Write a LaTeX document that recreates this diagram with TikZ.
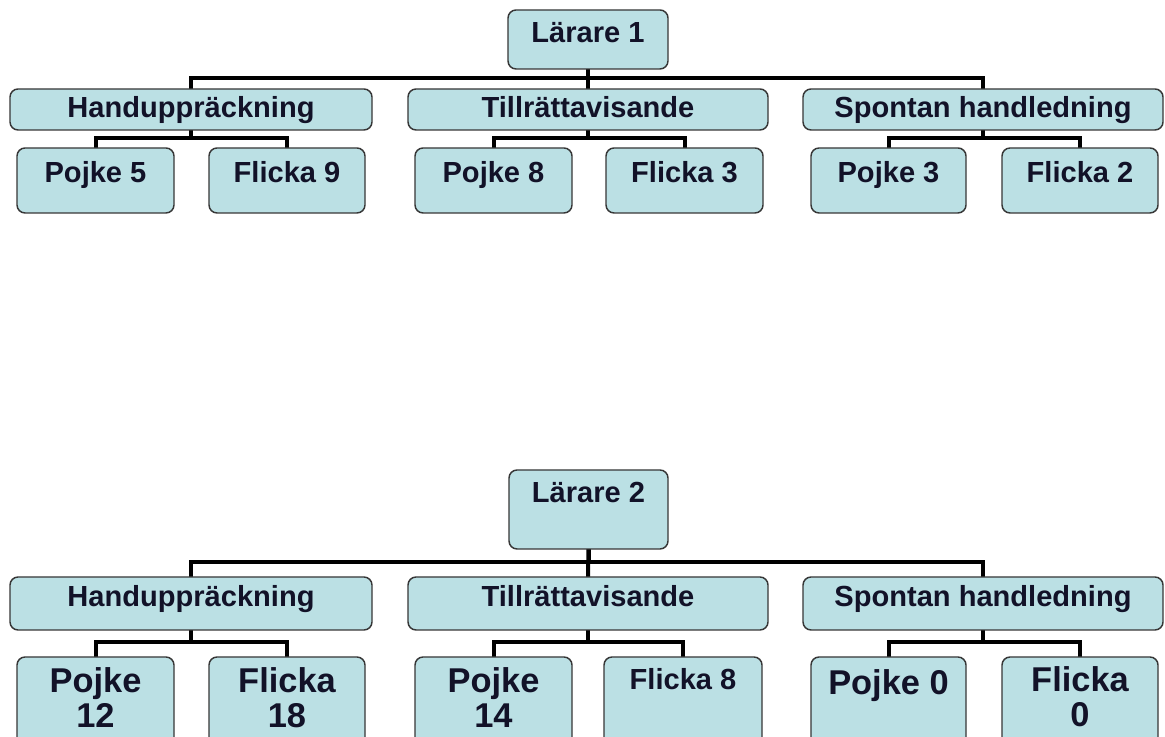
\documentclass[tikz,border=0pt]{standalone}
\usepackage{fontspec}
\setmainfont{Liberation Sans}
\usetikzlibrary{calc,backgrounds}
\definecolor{boxfill}{RGB}{187,224,228}
\definecolor{boxline}{RGB}{55,55,55}
\definecolor{txt}{RGB}{18,18,40}
\newcommand\boxat[5]{\node[box, minimum width={(#4-#2)*0.75pt}, minimum height={(#5-#3)*0.75pt}] (#1) at ({(#2+#4)/2},{(#3+#5)/2}) {};}
\begin{document}
\begin{tikzpicture}[x=0.75pt,y=-0.75pt,
  box/.style={draw=boxline, line width=1.1pt, fill=boxfill, rounded corners=6pt, inner sep=0pt, outer sep=0pt},
  lbl/.style={anchor=base, text=txt, font=\bfseries\fontsize{21.8}{26}\selectfont, inner sep=0pt},
  big/.style={anchor=base, text=txt, font=\bfseries\fontsize{25.8}{26.25}\selectfont, inner sep=0pt, align=center},
  conn/.style={line width=3pt, black}]
\clip (0,0) rectangle (1165,737);
% Top tree
\boxat{L1}{508}{10}{668}{69}
\boxat{H1}{10}{89}{372}{130}
\boxat{T1}{408}{89}{768}{130}
\boxat{S1}{803}{89}{1163}{130}
\boxat{P1a}{17}{148}{174}{213}
\boxat{F1a}{209}{148}{365}{213}
\boxat{P1b}{415}{148}{572}{213}
\boxat{F1b}{606}{148}{763}{213}
\boxat{P1c}{811}{148}{966}{213}
\boxat{F1c}{1002}{148}{1158}{213}
% Bottom tree
\boxat{L2}{509}{470}{668}{549}
\boxat{H2}{10}{577}{372}{630}
\boxat{T2}{408}{577}{768}{630}
\boxat{S2}{803}{577}{1163}{630}
\boxat{P2a}{17}{657}{174}{775}
\boxat{F2a}{209}{657}{365}{775}
\boxat{P2b}{415}{657}{572}{775}
\boxat{F2b}{604}{657}{762}{775}
\boxat{P2c}{811}{657}{966}{775}
\boxat{F2c}{1002}{657}{1158}{775}
% connectors behind the boxes
\begin{pgfonlayer}{background}
\fill[white] (0,0) rectangle (1165,737);
\draw[conn] (L1.south) |- ($(H1.north)+(0,-11)$) -- (H1.north);
\draw[conn] (L1.south) -- (T1.north);
\draw[conn] (L1.south) |- ($(S1.north)+(0,-11)$) -- (S1.north);
\draw[conn] (H1.south) |- ($(P1a.north)+(0,-10)$) -- (P1a.north);
\draw[conn] (H1.south) |- ($(F1a.north)+(0,-10)$) -- (F1a.north);
\draw[conn] (T1.south) |- ($(P1b.north)+(0,-10)$) -- (P1b.north);
\draw[conn] (T1.south) |- ($(F1b.north)+(0,-10)$) -- (F1b.north);
\draw[conn] (S1.south) |- ($(P1c.north)+(0,-10)$) -- (P1c.north);
\draw[conn] (S1.south) |- ($(F1c.north)+(0,-10)$) -- (F1c.north);
\draw[conn] (L2.south) |- ($(H2.north)+(0,-15)$) -- (H2.north);
\draw[conn] (L2.south) -- (T2.north);
\draw[conn] (L2.south) |- ($(S2.north)+(0,-15)$) -- (S2.north);
\draw[conn] (H2.south) |- ($(P2a.north)+(0,-15)$) -- (P2a.north);
\draw[conn] (H2.south) |- ($(F2a.north)+(0,-15)$) -- (F2a.north);
\draw[conn] (T2.south) |- ($(P2b.north)+(0,-15)$) -- (P2b.north);
\draw[conn] (T2.south) |- ($(F2b.north)+(0,-15)$) -- (F2b.north);
\draw[conn] (S2.south) |- ($(P2c.north)+(0,-15)$) -- (P2c.north);
\draw[conn] (S2.south) |- ($(F2c.north)+(0,-15)$) -- (F2c.north);
\end{pgfonlayer}
% texts
\node[lbl] (tL1) at ($(L1.north)+(0,33)$) {Lärare 1};
\node[lbl] (tH1) at ($(H1.north)+(0,29)$) {Handuppräckning};
\node[lbl] (tT1) at ($(T1.north)+(0,29)$) {Tillrättavisande};
\node[lbl] (tS1) at ($(S1.north)+(0,29)$) {Spontan handledning};
\node[lbl] (tP1a) at ($(P1a.north)+(0,35)$) {Pojke 5};
\node[lbl] (tF1a) at ($(F1a.north)+(0,35)$) {Flicka 9};
\node[lbl] (tP1b) at ($(P1b.north)+(0,35)$) {Pojke 8};
\node[lbl] (tF1b) at ($(F1b.north)+(0,35)$) {Flicka 3};
\node[lbl] (tP1c) at ($(P1c.north)+(0,35)$) {Pojke 3};
\node[lbl] (tF1c) at ($(F1c.north)+(0,35)$) {Flicka 2};
\node[lbl] (tL2) at ($(L2.north)+(0,33)$) {Lärare 2};
\node[lbl] (tH2) at ($(H2.north)+(0,30)$) {Handuppräckning};
\node[lbl] (tT2) at ($(T2.north)+(0,30)$) {Tillrättavisande};
\node[lbl] (tS2) at ($(S2.north)+(0,30)$) {Spontan handledning};
\node[big] (tP2a) at ($(P2a.north)+(0,71)$) {Pojke\\12};
\node[big] (tF2a) at ($(F2a.north)+(0,71)$) {Flicka\\18};
\node[big] (tP2b) at ($(P2b.north)+(0,71)$) {Pojke\\14};
\node[lbl] (tF2b) at ($(F2b.north)+(0,33)$) {Flicka 8};
\node[big] (tP2c) at ($(P2c.north)+(0,38)$) {Pojke 0};
\node[big] (tF2c) at ($(F2c.north)+(0,70)$) {Flicka\\0};
\end{tikzpicture}
\end{document}
